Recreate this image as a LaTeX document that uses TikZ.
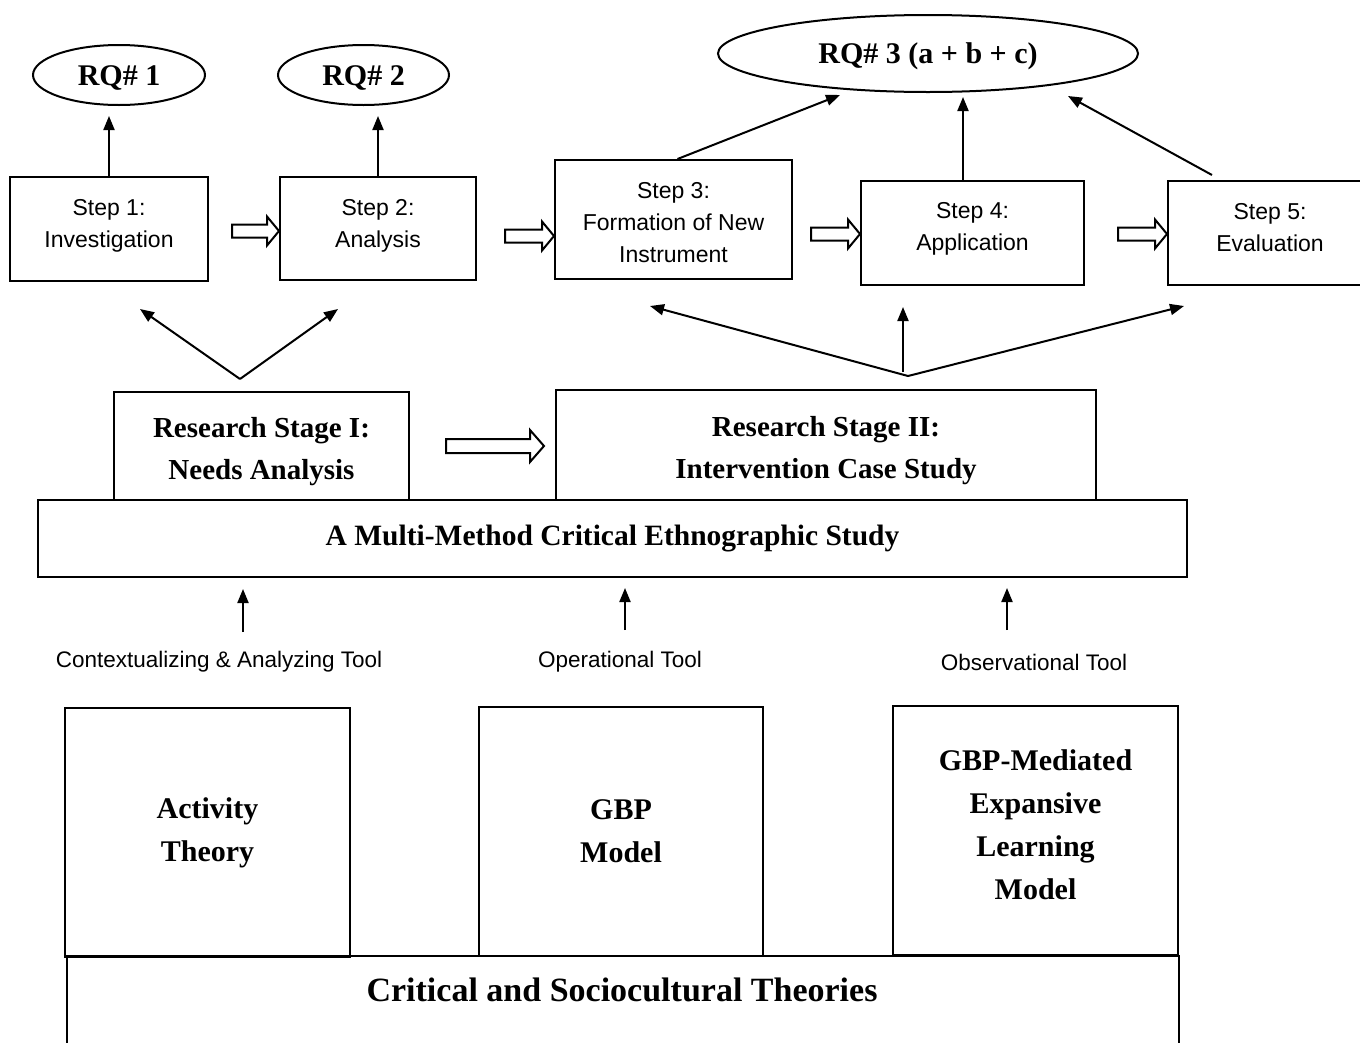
\documentclass[tikz,border=0pt]{standalone}
\usepackage{fontspec}
\setmainfont{Liberation Serif}
\setsansfont{Liberation Sans}
\usetikzlibrary{shapes.geometric,arrows.meta,calc}

% outlined block arrow from #1 to the x of #2, at the height of #1
% #3 half shaft height, #4 half head height, #5 head length
\newcommand\hollowarr[5]{%
  \path[hollowline] let \p1=(#1), \p2=(#2) in
    (\x1,\y1+#3) -- (\x2-#5,\y1+#3) -- (\x2-#5,\y1+#4) -- (\x2,\y1)
    -- (\x2-#5,\y1-#4) -- (\x2-#5,\y1-#3) -- (\x1,\y1-#3) -- cycle;}
% invisible struts that nudge a text block inside its box
\newcommand\topstrut[1]{\rule{0pt}{#1}}
\newcommand\botstrut[1]{\rule[-#1]{0pt}{#1}}

\begin{document}
\begin{tikzpicture}[x=1pt,y=-1pt,
  box/.style={draw, line width=2pt, rectangle, inner sep=0pt, align=center},
  stepbox/.style={box, font=\sffamily\fontsize{23}{32}\selectfont},
  stagebox/.style={box, font=\bfseries\fontsize{29}{42}\selectfont},
  theorybox/.style={box, font=\bfseries\fontsize{30}{43}\selectfont},
  rq/.style={draw, ellipse, line width=2pt, inner sep=0pt,
    font=\bfseries\fontsize{30}{34}\selectfont},
  tool/.style={font=\sffamily\fontsize{22.5}{27}\selectfont, inner sep=0pt},
  arr/.style={-{Triangle[length=14pt,width=11pt]}, line width=2pt},
  hollowline/.style={draw, line width=2pt, fill=white, line join=miter},
]
\useasboundingbox (0,0) rectangle (1360,1042);
\clip (0,0) rectangle (1360,1042);

% research questions
\node[rq, minimum width=172pt, minimum height=60pt] (rq1) at (119,75)
  {\topstrut{26pt}RQ\# 1};
\node[rq, minimum width=171pt, minimum height=60pt] (rq2) at (363.5,75)
  {\topstrut{26pt}RQ\# 2};
\node[rq, minimum width=420pt, minimum height=77pt] (rq3) at (928,53.5)
  {\topstrut{26pt}RQ\# 3 (a + b + c)};

% steps
\node[stepbox, minimum width=198pt, minimum height=104pt] (s1) at (109,229)
  {Step 1:\\Investigation\botstrut{11pt}};
\node[stepbox, minimum width=196pt, minimum height=103pt] (s2) at (378,228.5)
  {Step 2:\\Analysis\botstrut{11pt}};
\node[stepbox, minimum width=237pt, minimum height=119pt] (s3) at (673.5,219.5)
  {\topstrut{23pt}Step 3:\\Formation of New\\Instrument};
\node[stepbox, minimum width=223pt, minimum height=104pt] (s4) at (972.5,233)
  {Step 4:\\Application\botstrut{13pt}};
\node[stepbox, minimum width=204pt, minimum height=104pt] (s5) at (1270,233)
  {Step 5:\\Evaluation\botstrut{12pt}};

% step to research question
\draw[arr, shorten >=10pt] (s1.north) -- (s1.north |- rq1.south);
\draw[arr, shorten >=10pt] (s2.north) -- (s2.north |- rq2.south);
\draw[arr] ($(s3.north)+(4,0)$) -- ($(rq3.center)+(-88,41.5)$);
\draw[arr] ($(s4.north)+(-9.5,0)$) -- ($(rq3.center)+(35,43.5)$);
\draw[arr] ($(s5.north west)+(45,-5)$) -- ($(rq3.center)+(140,42.5)$);

% step sequence
\coordinate (h1) at ($(s1.east)+(23,2)$);
\coordinate (h2) at ($(s2.east)+(28,7.5)$);
\coordinate (h3) at ($(s3.east)+(18,14.5)$);
\coordinate (h4) at ($(s4.east)+(33,1)$);
\hollowarr{h1}{s2.west}{6.5pt}{14.5pt}{12pt}
\hollowarr{h2}{s3.west}{6.5pt}{14.5pt}{12pt}
\hollowarr{h3}{s4.west}{6.5pt}{14.5pt}{12pt}
\hollowarr{h4}{s5.west}{6.5pt}{14.5pt}{12pt}

% research stages
\node[stagebox, minimum width=295pt, minimum height=108pt] (st1) at (261.5,446)
  {\topstrut{32pt}Research Stage I:\\Needs Analysis};
\node[stagebox, minimum width=540pt, minimum height=110pt] (st2) at (826,445)
  {\topstrut{32pt}Research Stage II:\\Intervention Case Study};
\coordinate (hs) at ($(st1.east)+(36,0)$);
\coordinate (hsend) at ($(st2.west)+(-11,0)$);
\hollowarr{hs}{hsend}{7pt}{16pt}{14pt}

% stages feeding the steps
\coordinate (fork1) at ($(st1.north)+(-21.5,-12)$);
\coordinate (fork2) at ($(st2.north)+(82,-13)$);
\draw[arr] (fork1) -- ($(s1.south)+(31,27)$);
\draw[arr] (fork1) -- ($(s2.south)+(-40,28)$);
\draw[arr] (fork2) -- ($(s3.south)+(-23.5,26)$);
\draw[arr] ($(fork2)+(-5,-4)$) -- ($(s4.south)+(-69.5,21)$);
\draw[arr] (fork2) -- ($(s5.south west)+(17,20)$);

% overall study
\node[stagebox, font=\bfseries\fontsize{29.5}{42}\selectfont,
      minimum width=1149pt, minimum height=77pt] (mm) at (612.5,538.5)
  {A Multi-Method Critical Ethnographic Study};

% tools
\node[tool] (t1) at (219,662) {Contextualizing \& Analyzing Tool};
\node[tool] (t2) at (620,662) {Operational Tool};
\node[tool] (t3) at (1034,662) {Observational Tool};
\draw[arr] ($(t1.center)+(24,-30)$) -- ($(mm.south)+(-369.5,11)$);
\draw[arr] ($(t2.center)+(5,-32)$) -- ($(mm.south)+(12.5,10)$);
\draw[arr] ($(t3.center)+(-27,-32)$) -- ($(mm.south)+(394.5,10)$);

% theory base
\node[box, minimum width=1112pt, minimum height=110pt] (crit) at (623,1011) {};
\node[theorybox, minimum width=285pt, minimum height=249pt] (at) at (207.5,832.5)
  {Activity\\Theory};
\node[theorybox, minimum width=284pt, minimum height=249pt] (gbp) at (621,831.5)
  {GBP\\Model};
\node[theorybox, minimum width=285pt, minimum height=249pt] (gbpm) at (1035.5,830.5)
  {GBP-Mediated\\Expansive\\Learning\\Model\botstrut{12pt}};
\node[font=\bfseries\fontsize{34}{40}\selectfont, inner sep=0pt] (critlabel) at (622,990)
  {Critical and Sociocultural Theories};
\end{tikzpicture}
\end{document}
